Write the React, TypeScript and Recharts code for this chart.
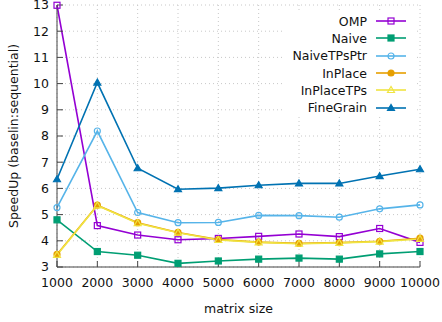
import React from 'react';
import { LineChart, Line, XAxis, YAxis, CartesianGrid, Legend } from 'recharts';

// matrix sizes on the x axis
const sizes = [1000, 2000, 3000, 4000, 5000, 6000, 7000, 8000, 9000, 10000];
const yTicks = [3, 4, 5, 6, 7, 8, 9, 10, 11, 12, 13];

// speedup per implementation
const omp = [12.99, 4.58, 4.22, 4.04, 4.09, 4.17, 4.26, 4.16, 4.47, 3.94];
const naive = [4.8, 3.59, 3.45, 3.14, 3.23, 3.3, 3.34, 3.3, 3.5, 3.59];
const naiveTPsPtr = [5.27, 8.19, 5.08, 4.69, 4.7, 4.97, 4.96, 4.9, 5.22, 5.37];
const inPlace = [3.48, 5.36, 4.69, 4.32, 4.05, 3.95, 3.9, 3.93, 3.98, 4.1];
const inPlaceTPs = [3.46, 5.35, 4.67, 4.31, 4.03, 3.94, 3.89, 3.92, 3.97, 4.07];
const fineGrain = [6.35, 10.04, 6.77, 5.97, 6.01, 6.12, 6.19, 6.19, 6.47, 6.73];

type Shape = 'sqOpen' | 'sqFill' | 'circOpen' | 'circFill' | 'triOpen' | 'triFill';

const series: { key: string; name: string; color: string; shape: Shape; values: number[] }[] = [
  { key: 'omp', name: 'OMP', color: '#9400d3', shape: 'sqOpen', values: omp },
  { key: 'naive', name: 'Naive', color: '#009e73', shape: 'sqFill', values: naive },
  { key: 'naiveTPsPtr', name: 'NaiveTPsPtr', color: '#56b4e9', shape: 'circOpen', values: naiveTPsPtr },
  { key: 'inPlace', name: 'InPlace', color: '#e69f00', shape: 'circFill', values: inPlace },
  { key: 'inPlaceTPs', name: 'InPlaceTPs', color: '#f0e442', shape: 'triOpen', values: inPlaceTPs },
  { key: 'fineGrain', name: 'FineGrain', color: '#0072b2', shape: 'triFill', values: fineGrain },
];

const data = sizes.map((size, i) => {
  const row: Record<string, number> = { size };
  series.forEach(s => { row[s.key] = s.values[i]; });
  return row;
});

const FONT = "'DejaVu Sans', Verdana, sans-serif";
const FS = 12.5;

function Marker({ cx, cy, shape, color }: { cx: number; cy: number; shape: Shape; color: string }) {
  const s = 3;
  const fill = shape.endsWith('Fill') ? color : 'none';
  if (shape.startsWith('sq')) {
    return <rect x={cx - s} y={cy - s} width={2 * s} height={2 * s} fill={fill} stroke={color} strokeWidth={1.2} />;
  }
  if (shape.startsWith('circ')) {
    return <circle cx={cx} cy={cy} r={s} fill={fill} stroke={color} strokeWidth={1.2} />;
  }
  const pts = `${cx},${cy - s - 0.5} ${cx - s - 0.5},${cy + s - 0.5} ${cx + s + 0.5},${cy + s - 0.5}`;
  return <polygon points={pts} fill={fill} stroke={color} strokeWidth={1.2} />;
}

function KeyBox() {
  return (
    <div style={{ background: '#fff', fontFamily: FONT, fontSize: FS, color: '#111' }}>
      {series.map(s => (
        <div key={s.key} style={{ display: 'flex', alignItems: 'center', height: 17.3 }}>
          <span style={{ width: 84, textAlign: 'right', whiteSpace: 'nowrap' }}>{s.name}</span>
          <svg width={40} height={14} style={{ marginLeft: 8 }}>
            <line x1={1} y1={7} x2={31} y2={7} stroke={s.color} strokeWidth={1.6} />
            <Marker cx={16} cy={7} shape={s.shape} color={s.color} />
          </svg>
        </div>
      ))}
    </div>
  );
}

export default function App() {
  const axisColor = '#444';
  const tickStyle = { fontSize: FS, fill: '#111', fontFamily: FONT };
  return (
    <div style={{ position: 'absolute', left: 0, top: 0, background: '#fff' }}>
      <LineChart width={442} height={322} data={data} margin={{ top: 5, right: 22, bottom: 0, left: 0 }}>
        <CartesianGrid stroke="#c8c8c8" strokeDasharray="1 3" />
        <XAxis
          dataKey="size"
          type="number"
          domain={[1000, 10000]}
          ticks={sizes}
          interval={0}
          height={55}
          stroke={axisColor}
          tickSize={-6}
          tickMargin={17}
          tick={tickStyle}
          label={{
            content: (p: any) => (
              <text x={p.viewBox.x + p.viewBox.width / 2} y={313} textAnchor="middle" fontSize={FS} fontFamily={FONT} fill="#111">
                matrix size
              </text>
            ),
          }}
        />
        <XAxis
          xAxisId="top"
          orientation="top"
          type="number"
          domain={[1000, 10000]}
          ticks={sizes}
          interval={0}
          height={0}
          stroke={axisColor}
          tickSize={-6}
          tick={false}
        />
        <YAxis
          type="number"
          domain={[3, 13]}
          ticks={yTicks}
          interval={0}
          width={57}
          stroke={axisColor}
          tickSize={-6}
          tickMargin={14}
          tick={tickStyle}
          label={{
            content: (p: any) => {
              const cx = 13;
              const cy = p.viewBox.y + p.viewBox.height / 2;
              return (
                <text x={cx} y={cy} transform={`rotate(-90, ${cx}, ${cy})`} textAnchor="middle" dominantBaseline="central" fontSize={FS} fontFamily={FONT} fill="#111">
                  SpeedUp (baselin:sequential)
                </text>
              );
            },
          }}
        />
        <YAxis
          yAxisId="right"
          orientation="right"
          type="number"
          domain={[3, 13]}
          ticks={yTicks}
          interval={0}
          width={0}
          stroke={axisColor}
          tickSize={-6}
          tick={false}
        />
        <Legend
          layout="vertical"
          align="center"
          verticalAlign="middle"
          content={() => <KeyBox />}
          wrapperStyle={{ top: 12.5, left: 283, width: 132, height: 'auto' }}
        />
        {series.map(s => (
          <Line
            key={s.key}
            dataKey={s.key}
            name={s.name}
            stroke={s.color}
            strokeWidth={1.6}
            isAnimationActive={false}
            dot={(p: any) => <Marker key={`${s.key}-${p.index}`} cx={p.cx} cy={p.cy} shape={s.shape} color={s.color} />}
            activeDot={false}
          />
        ))}
      </LineChart>
    </div>
  );
}
